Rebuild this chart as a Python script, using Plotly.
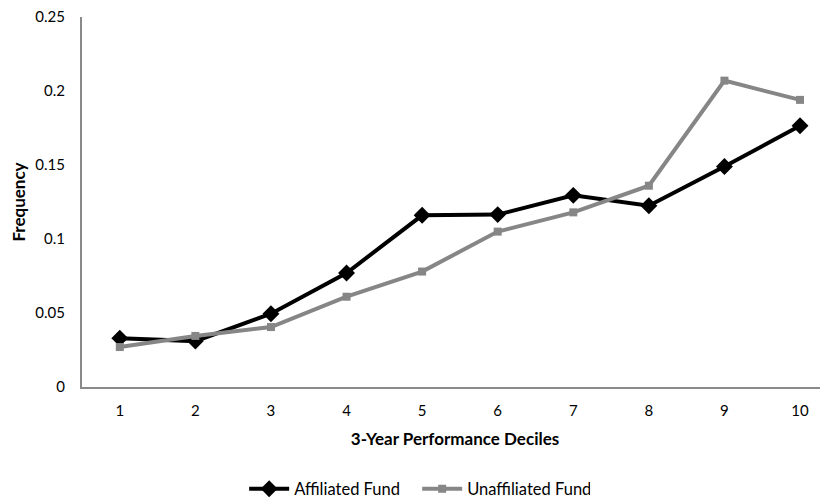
import plotly.graph_objects as go

deciles = [1, 2, 3, 4, 5, 6, 7, 8, 9, 10]
affiliated = [0.033, 0.031, 0.0495, 0.077, 0.116, 0.1165, 0.1295, 0.1225, 0.149, 0.1765]
unaffiliated = [0.027, 0.0345, 0.0405, 0.061, 0.078, 0.105, 0.118, 0.136, 0.207, 0.194]
y_ticks = [0, 0.05, 0.1, 0.15, 0.2, 0.25]
y_tick_labels = ["0", "0.05", "0.1", "0.15", "0.2", "0.25"]

font_family = "Lato, 'Open Sans', sans-serif"
axis_gray = "#8a8a8a"

fig = go.Figure()
fig.add_trace(go.Scatter(
    x=deciles, y=affiliated, name="Affiliated Fund", mode="lines+markers",
    line=dict(color="black", width=4),
    marker=dict(symbol="diamond", size=13, color="black"),
))
fig.add_trace(go.Scatter(
    x=deciles, y=unaffiliated, name="Unaffiliated Fund", mode="lines+markers",
    line=dict(color="#868686", width=4),
    marker=dict(symbol="square", size=8, color="#868686"),
))

# page body has an 8px default margin, so the figure is sized/offset accordingly
fig.update_layout(
    width=820, height=492,
    margin=dict(l=74, r=0, t=9, b=113, autoexpand=False),
    paper_bgcolor="white", plot_bgcolor="white",
    font=dict(family=font_family, size=15, color="black"),
    showlegend=True,
    legend=dict(orientation="h", xref="container", yref="container",
                x=0.288, y=0.0224, xanchor="left", yanchor="middle",
                font=dict(size=16.5), tracegroupgap=0,
                itemwidth=40, entrywidth=118),
    xaxis=dict(
        range=[0.5, 10.37], tickmode="array", tickvals=deciles,
        ticktext=[str(d) for d in deciles],
        showgrid=False, zeroline=False, showline=True,
        linecolor=axis_gray, linewidth=2, ticks="",
        ticklabelstandoff=9, automargin=False, ticklabeloverflow="allow",
        title=dict(text="<b>3-Year Performance Deciles</b>", standoff=15,
                   font=dict(size=17)),
        tickfont=dict(size=15),
    ),
    yaxis=dict(
        range=[0, 0.25], tickmode="array", tickvals=y_ticks, ticktext=y_tick_labels,
        showgrid=False, zeroline=False, showline=True,
        linecolor=axis_gray, linewidth=2, ticks="",
        ticklabelstandoff=12, automargin=False, ticklabeloverflow="allow",
        title=dict(text="<b>Frequency</b>", standoff=7, font=dict(size=17)),
        tickfont=dict(size=15),
    ),
)

fig.write_html("out.html")
